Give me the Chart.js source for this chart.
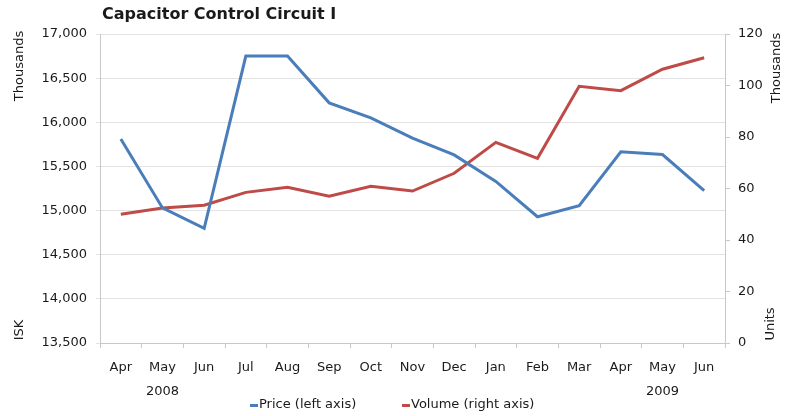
<!DOCTYPE html>
<html>
<head>
<meta charset="utf-8">
<title>Capacitor Control Circuit I</title>
<script src="https://cdn.jsdelivr.net/npm/chart.js@4"></script>
<style>
  html, body { margin: 0; padding: 0; background: #fff; }
  canvas { display: block; }
</style>
</head>
<body>
<canvas id="chart" width="785" height="416"></canvas>
<script>
// monthly series, Apr 2008 - Jun 2009
const months = ['Apr', 'May', 'Jun', 'Jul', 'Aug', 'Sep', 'Oct', 'Nov', 'Dec', 'Jan', 'Feb', 'Mar', 'Apr', 'May', 'Jun'];
const years = ['2008', '2009'];
const yearIndex = [1, 13];   // month the year label sits under

const price = [15810, 15030, 14800, 16750, 16750, 16220, 16050, 15820, 15630, 15330, 14930, 15055, 15665, 15635, 15225];
const volume = [50.0, 52.4, 53.5, 58.5, 60.5, 57.0, 60.9, 59.0, 65.9, 77.9, 71.7, 99.7, 98.0, 106.3, 110.8];

const priceTicks = { min: 13500, max: 17000, step: 500 };
const volumeTicks = { min: 0, max: 120, step: 20 };

const FONT = '"DejaVu Sans", sans-serif';
const TEXT = '#1a1a1a';
const BLUE = '#4a7ebb';
const RED = '#be4b48';

// title, side captions, year row and legend drawn straight on the canvas
const extras = {
  id: 'extras',
  afterDraw(chart) {
    const c = chart.ctx;
    const x = chart.scales.x;
    c.save();
    c.fillStyle = TEXT;
    c.font = 'bold 16px ' + FONT;
    c.textAlign = 'left';
    c.textBaseline = 'middle';
    c.fillText('Capacitor Control Circuit I', 102, 15);

    c.font = '13px ' + FONT;
    c.textAlign = 'center';
    years.forEach((y, i) => {
      c.fillText(y, x.getPixelForValue(yearIndex[i]), 392);
    });

    const side = (txt, px, py) => {
      c.save();
      c.translate(px, py);
      c.rotate(-Math.PI / 2);
      c.fillText(txt, 0, 0);
      c.restore();
    };
    side('Thousands', 20, 66);
    side('ISK', 20, 330);
    side('Thousands', 777, 68);
    side('Units', 771, 324);

    // legend: short line swatch followed by the series name
    c.textAlign = 'left';
    const legendX = [250, 402];
    chart.data.datasets.forEach((ds, i) => {
      c.fillStyle = ds.borderColor;
      c.fillRect(legendX[i], 404, 8, 3);
      c.fillStyle = TEXT;
      c.fillText(ds.label, legendX[i] + 9, 405);
    });
    c.restore();
  }
};

new Chart(document.getElementById('chart'), {
  type: 'line',
  data: {
    labels: months,
    datasets: [
      {
        label: 'Price (left axis)',
        data: price,
        yAxisID: 'y',
        borderColor: BLUE,
        backgroundColor: BLUE,
        borderWidth: 3,
        pointRadius: 0,
        tension: 0
      },
      {
        label: 'Volume (right axis)',
        data: volume,
        yAxisID: 'y1',
        borderColor: RED,
        backgroundColor: RED,
        borderWidth: 3,
        pointRadius: 0,
        tension: 0
      }
    ]
  },
  options: {
    responsive: false,
    animation: false,
    layout: { padding: { top: 34, left: 0, right: 0, bottom: 0 } },
    plugins: {
      title: { display: false },
      tooltip: { enabled: false },
      legend: { display: false }
    },
    scales: {
      x: {
        offset: true,
        grid: { offset: true, drawOnChartArea: false, tickLength: 5, color: '#c8c8c8' },
        border: { color: '#c8c8c8' },
        ticks: { color: TEXT, padding: 12, maxRotation: 0, autoSkip: false, font: { family: FONT, size: 13 } },
        afterFit: s => { s.height = 73; }
      },
      y: {
        position: 'left',
        min: priceTicks.min,
        max: priceTicks.max,
        grid: { color: '#e3e3e3', tickLength: 4 },
        border: { color: '#c8c8c8' },
        ticks: {
          stepSize: priceTicks.step,
          padding: 9,
          color: TEXT,
          font: { family: FONT, size: 13 },
          callback: v => v.toLocaleString('en-US')
        },
        afterFit: s => { s.width = 100; }
      },
      y1: {
        position: 'right',
        min: volumeTicks.min,
        max: volumeTicks.max,
        grid: { drawOnChartArea: false, tickLength: 5, color: '#c8c8c8' },
        border: { color: '#c8c8c8' },
        ticks: {
          stepSize: volumeTicks.step,
          padding: 8,
          color: TEXT,
          font: { family: FONT, size: 13 }
        },
        afterFit: s => { s.width = 60; }
      }
    }
  },
  plugins: [extras]
});
</script>
</body>
</html>
